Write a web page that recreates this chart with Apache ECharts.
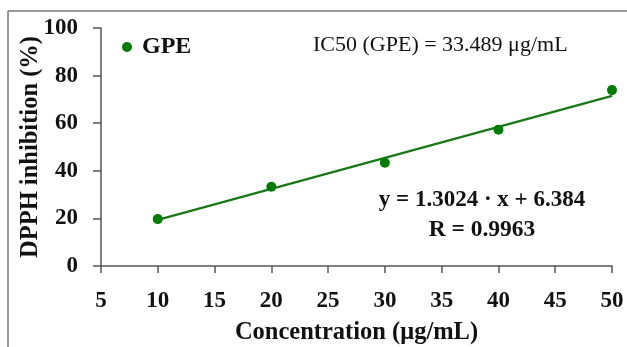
<!DOCTYPE html>
<html>
<head>
<meta charset="utf-8">
<script src="https://cdn.jsdelivr.net/npm/echarts@6/dist/echarts.min.js"></script>
<style>
html,body{margin:0;padding:0;background:#fff;}
#c{width:627px;height:347px;}
</style>
</head>
<body>
<div id="c"></div>
<script>
var concentrations = [10, 20, 30, 40, 50];
var inhibition = [19.7, 33.3, 43.4, 57.3, 73.9];
var fitX = [10, 50];
var fitY = [19.4, 71.5];
var xTicks = [5, 10, 15, 20, 25, 30, 35, 40, 45, 50];
var yTicks = [0, 20, 40, 60, 80, 100];
var seriesName = 'GPE';
var ic50Text = 'IC50 (GPE) = 33.489 \u03bcg/mL';
var eqText = 'y = 1.3024 \u00b7 x + 6.384';
var rText = 'R = 0.9963';

var FONT = '"Liberation Serif", "DejaVu Serif", serif';
var chart = echarts.init(document.getElementById('c'), null, {renderer: 'canvas'});
var pts = concentrations.map(function (x, i) { return [x, inhibition[i]]; });
var fit = fitX.map(function (x, i) { return [x, fitY[i]]; });
var axisColor = '#555';

chart.setOption({
  animation: false,
  backgroundColor: '#fff',
  grid: {left: 101, right: 15, top: 28, bottom: 81, outerBoundsMode: 'none', containLabel: false},
  legend: {
    data: [{name: seriesName, icon: 'circle'}],
    left: 117, top: 30, itemWidth: 10, itemHeight: 10, itemGap: 6,
    textStyle: {fontFamily: FONT, fontSize: 24, fontWeight: 'bold', color: '#111', padding: [0, 0, 0, 5]}
  },
  xAxis: {
    type: 'value', min: xTicks[0], max: xTicks[xTicks.length - 1], interval: 5,
    name: 'Concentration (\u03bcg/mL)', nameLocation: 'middle', nameGap: 54, nameMoveOverlap: false,
    nameTextStyle: {fontFamily: FONT, fontSize: 24.5, fontWeight: 'bold', color: '#111'},
    axisLine: {show: true, lineStyle: {color: axisColor, width: 1.5}},
    axisTick: {show: true, length: 7, inside: false, lineStyle: {color: axisColor, width: 1.5}},
    axisLabel: {fontFamily: FONT, fontSize: 23, fontWeight: 'bold', color: '#111', margin: 24},
    splitLine: {show: false}
  },
  yAxis: {
    type: 'value', min: yTicks[0], max: yTicks[yTicks.length - 1], interval: 20,
    name: 'DPPH inhibition (%)', nameLocation: 'middle', nameGap: 58, nameRotate: 90, nameMoveOverlap: false,
    nameTextStyle: {fontFamily: FONT, fontSize: 24.5, fontWeight: 'bold', color: '#111'},
    axisLine: {show: true, lineStyle: {color: axisColor, width: 1.5}},
    axisTick: {show: true, length: 8, inside: false, lineStyle: {color: axisColor, width: 1.5}},
    axisLabel: {fontFamily: FONT, fontSize: 23, fontWeight: 'bold', color: '#111', margin: 23},
    splitLine: {show: false}
  },
  series: [
    {
      name: 'fit', type: 'line', data: fit, symbol: 'none',
      lineStyle: {color: '#187818', width: 2.2}, z: 2, silent: true
    },
    {
      name: seriesName, type: 'scatter', data: pts, symbol: 'circle', symbolSize: 10,
      itemStyle: {color: '#007d00', opacity: 1}, z: 3
    }
  ],
  graphic: [
    {type: 'line', shape: {x1: 8, y1: 11, x2: 627, y2: 11}, style: {stroke: '#777', lineWidth: 1.5}},
    {type: 'line', shape: {x1: 8, y1: 11, x2: 8, y2: 347}, style: {stroke: '#777', lineWidth: 1.5}},
    {type: 'text', x: 313, y: 45, style: {text: ic50Text, font: 'normal 22px ' + FONT, fill: '#111', textVerticalAlign: 'middle'}},
    {type: 'text', x: 482, y: 200, style: {text: eqText, font: 'bold 23px ' + FONT, fill: '#111', textAlign: 'center', textVerticalAlign: 'middle'}},
    {type: 'text', x: 482, y: 230, style: {text: rText, font: 'bold 23.5px ' + FONT, fill: '#111', textAlign: 'center', textVerticalAlign: 'middle'}}
  ]
});
</script>
</body>
</html>
